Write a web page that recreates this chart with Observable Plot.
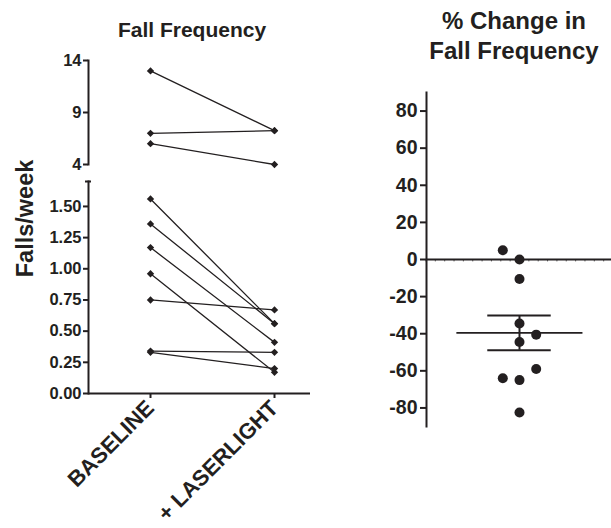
<!DOCTYPE html>
<html><head><meta charset="utf-8">
<script src="https://cdn.jsdelivr.net/npm/d3@7"></script>
<script src="https://cdn.jsdelivr.net/npm/@observablehq/plot@0.6"></script>
<style>
body{margin:0;background:#fff;}
#chart{position:relative;width:611px;height:528px;overflow:hidden;background:#fff}
#chart svg{position:absolute;left:0;top:0;max-width:none}
</style></head><body><div id="chart"></div>
<script>
// ---- data ----
const conditions = ["BASELINE", "+ LASERLIGHT"];
const baselineHigh = [13, 7, 6];
const laserHigh = [7.25, 7.25, 4];
const baselineLow = [1.56, 1.36, 1.17, 0.96, 0.75, 0.34, 0.33];
const laserLow = [0.56, 0.56, 0.41, 0.17, 0.67, 0.33, 0.20];
const highTicks = [4, 9, 14];
const lowTicks = [0, 0.25, 0.5, 0.75, 1.0, 1.25, 1.5];
const pctChange = [5, 0, -10.5, -34.5, -40.5, -44.5, -59, -64, -65, -82.5];
const pctColumn = [-1, 0, 0, 0, 1, 0, 1, -1, 0, 0];
const pctTicks = [-80, -60, -40, -20, 0, 20, 40, 60, 80];

// ---- layout ----
const W = 611, H = 528;
const ink = "#231f20";
const font = "'Liberation Sans', Arial, sans-serif";
const toRows = (b, l, tag) => b.flatMap((v, i) => [
  {subject: tag + i, condition: conditions[0], value: v},
  {subject: tag + i, condition: conditions[1], value: l[i]}
]);
const highRows = toRows(baselineHigh, laserHigh, "h");
const lowRows = toRows(baselineLow, laserLow, "l");

const base = (fs) => ({
  width: W, height: H,
  style: {background: "transparent", fontFamily: font, fontWeight: "bold", fontSize: fs + "px", color: ink, overflow: "visible"}
});
const xLeft = {type: "point", domain: conditions, range: [150, 274], padding: 0};
const plain = d => String(d);

const topPlot = Plot.plot({
  ...base(16.5),
  marginLeft: 88, marginRight: W - 310, marginTop: 60, marginBottom: H - 164,
  x: {...xLeft, axis: null},
  y: {domain: [4, 14], axis: null},
  marks: [
    Plot.frame({anchor: "left", stroke: ink, strokeWidth: 2}),
    Plot.axisY(highTicks, {tickSize: 5, tickPadding: 2, stroke: ink, strokeWidth: 2, fill: ink, tickFormat: plain, label: null}),
    Plot.line(highRows, {x: "condition", y: "value", z: "subject", stroke: ink, strokeWidth: 1.3}),
    Plot.dot(highRows, {x: "condition", y: "value", symbol: "diamond2", r: 3.3, fill: ink, stroke: null})
  ]
});

const lowPlot = Plot.plot({
  ...base(16.5),
  marginLeft: 88, marginRight: W - 310, marginTop: 181, marginBottom: H - 393,
  x: {...xLeft, axis: null},
  y: {domain: [0, 1.7], axis: null},
  marks: [
    Plot.frame({anchor: "left", stroke: ink, strokeWidth: 2}),
    Plot.ruleY([0], {stroke: ink, strokeWidth: 2}),
    Plot.axisY(lowTicks, {tickSize: 5, tickPadding: 2, stroke: ink, strokeWidth: 2, fill: ink, tickFormat: d3.format(".2f"), label: null}),
    Plot.axisY([1.7], {tickSize: 6, dx: 3, tickFormat: () => "", stroke: ink, strokeWidth: 2, label: null}),
    Plot.axisX({tickSize: 5, tickRotate: -45, tickPadding: 6, stroke: ink, strokeWidth: 2, fill: ink, fontSize: 22, label: null}),
    Plot.line(lowRows, {x: "condition", y: "value", z: "subject", stroke: ink, strokeWidth: 1.3}),
    Plot.dot(lowRows, {x: "condition", y: "value", symbol: "diamond2", r: 3.3, fill: ink, stroke: null})
  ]
});

const mean = d3.mean(pctChange);
const sem = d3.deviation(pctChange) / Math.sqrt(pctChange.length);
const pctRows = pctChange.map((v, i) => ({pct: v, col: pctColumn[i]}));

const rightPlot = Plot.plot({
  ...base(19.5),
  marginLeft: 426, marginRight: 0, marginTop: 92, marginBottom: H - 426,
  x: {domain: [-1, 1], range: [502.3, 535.7], axis: null},
  y: {domain: [-90, 90], axis: null},
  marks: [
    Plot.frame({anchor: "left", stroke: ink, strokeWidth: 2}),
    Plot.ruleY([0], {stroke: ink, strokeWidth: 1.8}),
    Plot.ruleX(d3.range(-5.6, 5.6, 0.56), {y1: 0, y2: -1.3, stroke: ink, strokeWidth: 0.7}),
    Plot.axisY(pctTicks, {tickSize: 6, tickPadding: 3, stroke: ink, strokeWidth: 2, fill: ink, tickFormat: plain, label: null}),
    Plot.ruleY([mean], {x1: -3.75, x2: 3.8, stroke: ink, strokeWidth: 1.6}),
    Plot.ruleY([mean - sem, mean + sem], {x1: -1.9, x2: 1.9, stroke: ink, strokeWidth: 2}),
    Plot.ruleX([0], {y1: mean - sem, y2: mean + sem, stroke: ink, strokeWidth: 2}),
    Plot.dot(pctRows, {x: "col", y: "pct", r: 5, fill: ink, stroke: null})
  ]
});

const chart = document.getElementById("chart");
[topPlot, lowPlot, rightPlot].forEach(p => chart.appendChild(p));

// titles and shared y label
const overlay = d3.create("svg").attr("width", W).attr("height", H)
  .style("font-family", font).style("font-weight", "bold").attr("fill", ink);
overlay.append("text").attr("x", 192).attr("y", 36.5).attr("text-anchor", "middle")
  .style("font-size", "21px").text("Fall Frequency");
overlay.append("text").attr("x", 514).attr("y", 28.5).attr("text-anchor", "middle")
  .style("font-size", "24px").text("% Change in");
overlay.append("text").attr("x", 514).attr("y", 58.5).attr("text-anchor", "middle")
  .style("font-size", "24px").text("Fall Frequency");
overlay.append("text").attr("transform", "translate(33,218.5) rotate(-90)").attr("text-anchor", "middle")
  .style("font-size", "23.5px").text("Falls/week");
chart.appendChild(overlay.node());
</script>
</body></html>
